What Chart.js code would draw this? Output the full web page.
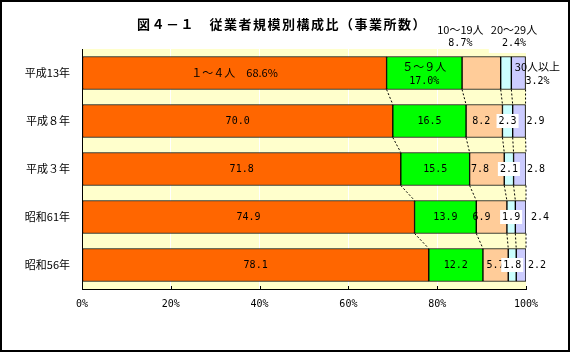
<!DOCTYPE html>
<html>
<head>
<meta charset="utf-8">
<script src="https://cdn.jsdelivr.net/npm/chart.js@4.4.1/dist/chart.umd.min.js"></script>
<style>
  html, body { margin: 0; padding: 0; background: #fff; }
  #wrap { width: 571px; height: 354px; }
</style>
</head>
<body>
<div id="wrap"><canvas id="chart" width="571" height="354"></canvas></div>
<script>
// values (percent of establishments)
const chartTitle = '図４－１　従業者規模別構成比（事業所数）';
const years = ['平成13年', '平成８年', '平成３年', '昭和61年', '昭和56年'];
const sizeClasses = ['１～４人', '５～９人', '10～19人', '20～29人', '30人以上'];
const share1to4 = [68.6, 70.0, 71.8, 74.9, 78.1];
const share5to9 = [17.0, 16.5, 15.5, 13.9, 12.2];
const share10to19 = [8.7, 8.2, 7.8, 6.9, 5.7];
const share20to29 = [2.4, 2.3, 2.1, 1.9, 1.8];
const share30plus = [3.2, 2.9, 2.8, 2.4, 2.2];
const xTicks = [0, 20, 40, 60, 80, 100];

const series = [share1to4, share5to9, share10to19, share20to29, share30plus];
const colors = ['#FF6600', '#00FF00', '#FFCC99', '#CCFFFF', '#CCCCFF'];

const JP = '"Noto Sans CJK JP", sans-serif';
const NUM = '"DejaVu Sans Mono", monospace';
const fmt = v => v.toFixed(1);

// small hand nudges for labels that sit off-centre in the original
const peachNudge = [0, -3, -7, -10, 0];
const outsideNudge = [0, 1, 1, 5, 2];

const paper = {
  id: 'paper',
  beforeDraw(chart) {
    const { ctx, chartArea: a } = chart;
    ctx.save();
    ctx.fillStyle = '#fff';
    ctx.fillRect(0, 0, chart.width, chart.height);
    ctx.fillStyle = '#FFFFCC';
    ctx.fillRect(a.left, a.top, a.right - a.left, a.bottom - a.top);
    ctx.restore();
  },
  afterDraw(chart) {
    const { ctx, chartArea: a } = chart;
    const xs = chart.scales.x;
    ctx.save();
    // little tick marks pointing up from the axis
    ctx.strokeStyle = '#000';
    ctx.lineWidth = 1;
    xTicks.slice(1).forEach(v => {
      const x = Math.round(xs.getPixelForValue(v)) + 0.5;
      ctx.beginPath();
      ctx.moveTo(x, a.bottom - 3);
      ctx.lineTo(x, a.bottom);
      ctx.stroke();
    });
    // title
    ctx.fillStyle = '#000';
    ctx.font = 'bold 13px ' + JP;
    ctx.letterSpacing = '1.5px';
    ctx.textAlign = 'center';
    ctx.textBaseline = 'middle';
    ctx.fillText(chartTitle, 282, 24);
    ctx.letterSpacing = '0px';
    // outer frame
    ctx.lineWidth = 2;
    ctx.strokeRect(1, 1, 568, 350);
    ctx.restore();
  }
};

const seriesLines = {
  id: 'seriesLines',
  afterDatasetsDraw(chart) {
    const { ctx } = chart;
    ctx.save();
    ctx.strokeStyle = '#000';
    ctx.lineWidth = 1;
    ctx.setLineDash([2, 2]);
    series.forEach((s, d) => {
      const els = chart.getDatasetMeta(d).data;
      for (let i = 0; i < els.length - 1; i++) {
        const a = els[i], b = els[i + 1];
        ctx.beginPath();
        ctx.moveTo(a.x, a.y + a.height / 2);
        ctx.lineTo(b.x, b.y - b.height / 2);
        ctx.stroke();
      }
    });
    ctx.restore();
  }
};

const valueLabels = {
  id: 'valueLabels',
  afterDatasetsDraw(chart) {
    const { ctx, chartArea: area } = chart;
    const seg = (d, i) => chart.getDatasetMeta(d).data[i];
    const mid = el => (el.x + el.base) / 2;
    ctx.save();
    ctx.fillStyle = '#000';
    ctx.textBaseline = 'middle';
    ctx.textAlign = 'center';

    // first row: names + percentages
    let el = seg(0, 0);
    ctx.font = '11px ' + JP;
    ctx.fillText(sizeClasses[0] + '　' + fmt(share1to4[0]) + '%', mid(el), el.y);
    el = seg(1, 0);
    ctx.fillText(sizeClasses[1], mid(el), el.y - 6);
    ctx.font = '10px ' + NUM;
    ctx.fillText(fmt(share5to9[0]) + '%', mid(el), el.y + 8);

    // 10～19人 above the plot
    el = seg(2, 0);
    ctx.font = '11px ' + JP;
    ctx.fillText(sizeClasses[2], mid(el) - 21, area.top - 19);
    ctx.font = '10px ' + NUM;
    ctx.fillText(fmt(share10to19[0]) + '%', mid(el) - 21, area.top - 6);

    // 20～29人 above the plot, on a white patch
    el = seg(3, 0);
    ctx.font = '11px ' + JP;
    const w = ctx.measureText(sizeClasses[3]).width + 4;
    ctx.fillStyle = '#fff';
    ctx.fillRect(mid(el) + 8 - w / 2, area.top - 26, w, 30);
    ctx.fillStyle = '#000';
    ctx.fillText(sizeClasses[3], mid(el) + 8, area.top - 19);
    ctx.font = '10px ' + NUM;
    ctx.fillText(fmt(share20to29[0]) + '%', mid(el) + 8, area.top - 6);

    // 30人以上 to the right
    el = seg(4, 0);
    ctx.font = '11px ' + JP;
    ctx.fillText(sizeClasses[4], mid(el) + 19, el.y - 6);
    ctx.font = '10px ' + NUM;
    ctx.fillText(fmt(share30plus[0]) + '%', mid(el) + 19, el.y + 8);

    // other rows: plain values
    ctx.font = '10px ' + NUM;
    for (let i = 1; i < years.length; i++) {
      el = seg(0, i);
      ctx.fillText(fmt(share1to4[i]), mid(el), el.y);
      el = seg(1, i);
      ctx.fillText(fmt(share5to9[i]), mid(el), el.y);
      el = seg(2, i);
      ctx.fillText(fmt(share10to19[i]), mid(el) + peachNudge[i], el.y);
      el = seg(3, i);
      const t = fmt(share20to29[i]);
      const bw = ctx.measureText(t).width + 4;
      ctx.fillStyle = '#fff';
      ctx.fillRect(mid(el) - bw / 2, el.y - 7, bw, 14);
      ctx.fillStyle = '#000';
      ctx.fillText(t, mid(el), el.y);
      el = seg(4, i);
      ctx.textAlign = 'left';
      ctx.fillText(fmt(share30plus[i]), el.x + outsideNudge[i], el.y);
      ctx.textAlign = 'center';
    }
    ctx.restore();
  }
};

new Chart(document.getElementById('chart'), {
  type: 'bar',
  data: {
    labels: years,
    datasets: series.map((s, i) => ({
      label: sizeClasses[i],
      data: s,
      backgroundColor: colors[i],
      borderColor: '#000',
      borderWidth: 1,
      borderSkipped: false,
      barThickness: 33
    }))
  },
  options: {
    indexAxis: 'y',
    responsive: false,
    animation: false,
    layout: { padding: { top: 49, right: 45, left: 0, bottom: 0 } },
    plugins: {
      legend: { display: false },
      title: { display: false },
      tooltip: { enabled: false }
    },
    scales: {
      x: {
        stacked: true,
        min: 0,
        max: 100,
        afterBuildTicks: s => { s.ticks = xTicks.map(v => ({ value: v })); },
        ticks: {
          callback: v => v + '%',
          color: '#000',
          font: { family: NUM, size: 10 },
          padding: 9,
          maxRotation: 0
        },
        grid: { color: '#fff', lineWidth: 1, drawTicks: false },
        border: { color: '#000', width: 1 },
        afterFit: s => { s.height = 65; }
      },
      y: {
        stacked: true,
        ticks: { color: '#000', font: { family: JP, size: 11 }, padding: 12 },
        grid: { display: false, drawTicks: false },
        border: { display: true, color: '#000', width: 1 },
        afterFit: s => { s.width = 82; }
      }
    }
  },
  plugins: [paper, seriesLines, valueLabels]
});
</script>
</body>
</html>
